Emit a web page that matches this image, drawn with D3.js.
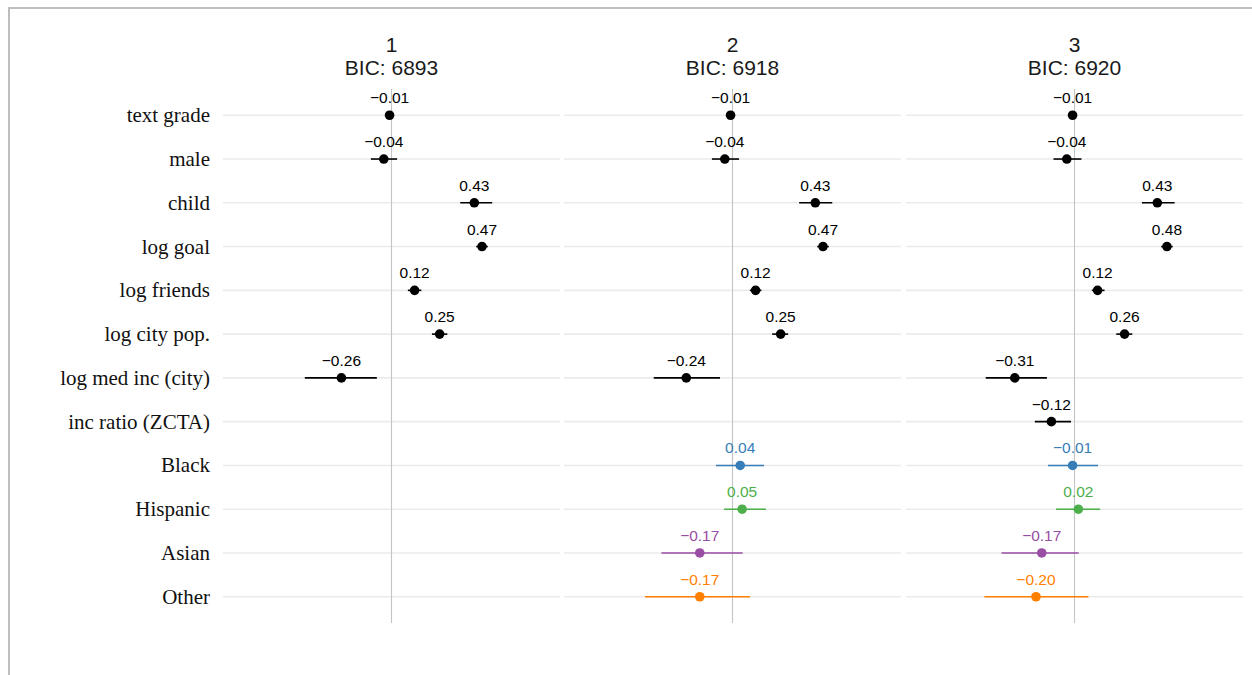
<!DOCTYPE html>
<html>
<head>
<meta charset="utf-8">
<script src="https://cdn.jsdelivr.net/npm/d3@7"></script>
<style>
  html, body { margin: 0; padding: 0; background: #fff; }
  svg { display: block; }
</style>
</head>
<body>
<svg id="chart" width="1252" height="675"></svg>
<script>
// ---- data ----
const terms = ["text grade", "male", "child", "log goal", "log friends", "log city pop.",
  "log med inc (city)", "inc ratio (ZCTA)", "Black", "Hispanic", "Asian", "Other"];
const termGroups = ["base", "base", "base", "base", "base", "base", "base", "base",
  "Black", "Hispanic", "Asian", "Other"];
const models = ["1", "2", "3"];
const bic = [6893, 6918, 6920];

const est1 = [-0.01, -0.04, 0.43, 0.47, 0.12, 0.25, -0.26, null, null, null, null, null];
const lo1  = [-0.03, -0.107, 0.357, 0.44, 0.085, 0.21, -0.45, null, null, null, null, null];
const hi1  = [0.01, 0.029, 0.523, 0.50, 0.155, 0.29, -0.076, null, null, null, null, null];

const est2 = [-0.01, -0.04, 0.43, 0.47, 0.12, 0.25, -0.24, null, 0.04, 0.05, -0.17, -0.17];
const lo2  = [-0.03, -0.107, 0.346, 0.44, 0.09, 0.206, -0.409, null, -0.086, -0.044, -0.369, -0.454];
const hi2  = [0.01, 0.034, 0.518, 0.50, 0.15, 0.289, -0.065, null, 0.164, 0.174, 0.053, 0.091];

const est3 = [-0.01, -0.04, 0.43, 0.48, 0.12, 0.26, -0.31, -0.12, -0.01, 0.02, -0.17, -0.20];
const lo3  = [-0.03, -0.109, 0.35, 0.45, 0.09, 0.217, -0.461, -0.206, -0.138, -0.096, -0.379, -0.468];
const hi3  = [0.01, 0.036, 0.52, 0.51, 0.156, 0.30, -0.143, -0.018, 0.122, 0.133, 0.022, 0.072];

const estimates = [est1, est2, est3];
const lows = [lo1, lo2, lo3];
const highs = [hi1, hi2, hi3];

// ---- layout ----
const svg = d3.select("#chart");
const panelLefts = [223, 564, 906];
const panelW = 337;
const panelTop = 89, panelBottom = 623;

const x = d3.scaleLinear().domain([-0.875, 0.875]).range([0, panelW]);
const y = d3.scalePoint().domain(terms).range([panelTop, panelBottom]).padding(0.6);
const color = d3.scaleOrdinal()
  .domain(["base", "Black", "Hispanic", "Asian", "Other"])
  .range(["#000000", "#377EB8", "#4DAF4A", "#984EA3", "#FF7F00"]);
const fmt = d3.format(".2f");

// outer frame (cropped border)
svg.append("path")
  .attr("d", "M9,700 L9,8 L1260,8")
  .attr("fill", "none")
  .attr("stroke", "#bdbdbd")
  .attr("stroke-width", 2);

// row labels
svg.append("g").selectAll("text").data(terms).join("text")
  .attr("x", 210)
  .attr("y", d => y(d))
  .attr("dy", "0.33em")
  .attr("text-anchor", "end")
  .attr("font-family", "'Liberation Serif', 'Times New Roman', serif")
  .attr("font-size", 21)
  .attr("fill", "#111")
  .text(d => d);

models.forEach((m, mi) => {
  const g = svg.append("g").attr("transform", `translate(${panelLefts[mi]},0)`);

  // grid lines
  g.append("g").selectAll("line").data(terms).join("line")
    .attr("x1", 0).attr("x2", panelW)
    .attr("y1", d => y(d)).attr("y2", d => y(d))
    .attr("stroke", "#ebebeb")
    .attr("stroke-width", 1.6);

  // zero line
  g.append("line")
    .attr("x1", x(0)).attr("x2", x(0))
    .attr("y1", panelTop).attr("y2", panelBottom)
    .attr("stroke", "#c4c4c4")
    .attr("stroke-width", 1.1);

  // facet title
  const title = g.append("text")
    .attr("x", panelW / 2)
    .attr("text-anchor", "middle")
    .attr("font-family", "'Liberation Sans', Arial, Helvetica, sans-serif")
    .attr("font-size", 21)
    .attr("fill", "#1a1a1a");
  title.append("tspan").attr("x", panelW / 2).attr("y", 52).text(m);
  title.append("tspan").attr("x", panelW / 2).attr("y", 75).text("BIC: " + bic[mi]);

  const rows = terms.map((t, i) => ({
    term: t, group: termGroups[i],
    est: estimates[mi][i], lo: lows[mi][i], hi: highs[mi][i]
  })).filter(d => d.est !== null);

  // CI lines
  g.append("g").selectAll("line").data(rows).join("line")
    .attr("x1", d => x(d.lo)).attr("x2", d => x(d.hi))
    .attr("y1", d => y(d.term)).attr("y2", d => y(d.term))
    .attr("stroke", d => color(d.group))
    .attr("stroke-width", 1.6);

  // points
  g.append("g").selectAll("circle").data(rows).join("circle")
    .attr("cx", d => x(d.est))
    .attr("cy", d => y(d.term))
    .attr("r", 4.8)
    .attr("fill", d => color(d.group));

  // value labels
  g.append("g").selectAll("text").data(rows).join("text")
    .attr("x", d => x(d.est))
    .attr("y", d => y(d.term) - 12)
    .attr("text-anchor", "middle")
    .attr("font-family", "'Liberation Sans', Arial, Helvetica, sans-serif")
    .attr("font-size", 15.5)
    .attr("fill", d => color(d.group))
    .text(d => fmt(d.est));
});
</script>
</body>
</html>
